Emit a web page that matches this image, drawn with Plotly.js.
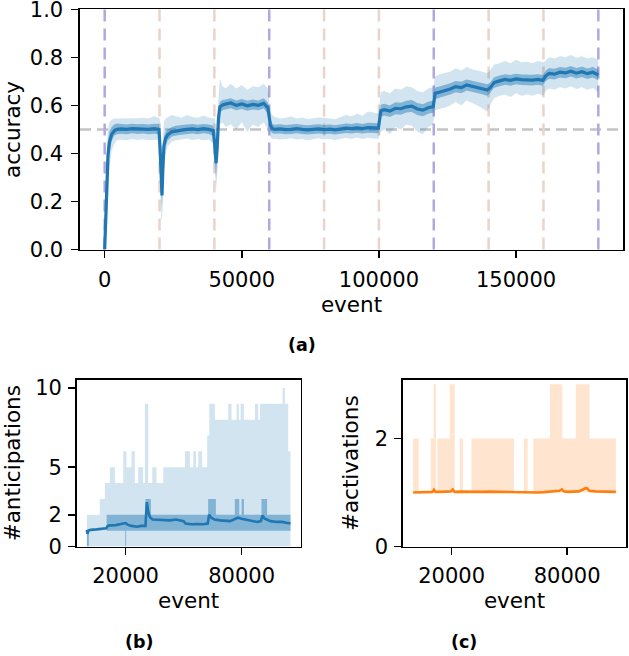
<!DOCTYPE html>
<html>
<head>
<meta charset="utf-8">
<script src="https://cdn.plot.ly/plotly-3.0.1.min.js"></script>
<style>
  html, body { margin: 0; padding: 0; background: #fff; }
  #wrap { position: relative; width: 629px; height: 656px; }
  #chart { width: 629px; height: 656px; }
  .frame { position: absolute; box-sizing: border-box; border: 1.6px solid #000; pointer-events: none; }
</style>
</head>
<body>
<div id="wrap"><div id="chart"></div></div>
<script>
// ---------- (a) accuracy over the event stream ----------
const eventA = [
  0, 400, 800, 1200, 1700, 2500, 3500, 4500,
  6000, 8000, 10000, 12000, 14000, 16000, 18000, 19800,
  20200, 20600, 20900, 21200, 21600, 22200, 23000, 24500,
  26000, 28000, 30000, 32000, 34000, 36000, 38000, 39600,
  40100, 40600, 41000, 41500, 42000, 43000, 44000,
  46000, 48000, 50000, 52000, 54000, 56000, 58000, 59500,
  60400, 61000, 62000, 64000, 66000, 68000, 70000, 72000, 74000,
  76000, 78000, 80000, 82000, 84000, 86000, 88000, 90000, 92000, 94000, 96000, 98000, 99800,
  100700, 102000, 104000, 106000, 108000, 110000, 112000, 114000, 116000, 118000, 119800,
  120500, 122000, 124000, 126000, 128000, 130000, 132000, 134000, 136000, 138000, 139500,
  140500, 141500, 142000, 144000, 146000, 148000, 150000, 152000, 154000, 156000, 158000, 159800,
  160800, 162000, 164000, 166000, 168000, 170000, 172000, 174000, 176000, 178000, 180000
];
const accMean = [
  0.00, 0.15, 0.29, 0.39, 0.445, 0.478, 0.494, 0.50,
  0.502, 0.500, 0.503, 0.501, 0.502, 0.500, 0.503, 0.500,
  0.42, 0.27, 0.225, 0.33, 0.43, 0.462, 0.478, 0.49,
  0.494, 0.497, 0.500, 0.502, 0.499, 0.503, 0.500, 0.495,
  0.44, 0.36, 0.42, 0.545, 0.594, 0.602, 0.605,
  0.610, 0.600, 0.606, 0.598, 0.604, 0.600, 0.608, 0.590,
  0.52, 0.505, 0.500, 0.502, 0.499, 0.500, 0.503, 0.500, 0.498,
  0.500, 0.502, 0.499, 0.501, 0.498, 0.502, 0.505, 0.503, 0.506, 0.503, 0.507, 0.506, 0.505,
  0.578, 0.582, 0.576, 0.588, 0.586, 0.594, 0.597, 0.585, 0.580, 0.590, 0.595,
  0.650, 0.655, 0.660, 0.668, 0.678, 0.674, 0.685, 0.680, 0.676, 0.668, 0.664,
  0.672, 0.688, 0.695, 0.702, 0.708, 0.704, 0.710, 0.707, 0.706, 0.705, 0.708, 0.704,
  0.722, 0.733, 0.730, 0.738, 0.735, 0.742, 0.734, 0.740, 0.732, 0.738, 0.727
];
const accInnerLo = [
  0.00, 0.08, 0.20, 0.32, 0.40, 0.45, 0.475, 0.48,
  0.482, 0.480, 0.484, 0.481, 0.483, 0.480, 0.482, 0.480,
  0.36, 0.20, 0.17, 0.27, 0.39, 0.43, 0.455, 0.47,
  0.475, 0.478, 0.482, 0.483, 0.480, 0.484, 0.481, 0.470,
  0.40, 0.30, 0.37, 0.51, 0.57, 0.58, 0.583,
  0.588, 0.580, 0.585, 0.578, 0.583, 0.580, 0.587, 0.565,
  0.495, 0.485, 0.482, 0.483, 0.480, 0.481, 0.484, 0.481, 0.479,
  0.481, 0.483, 0.480, 0.482, 0.479, 0.483, 0.485, 0.483, 0.486, 0.483, 0.486, 0.485, 0.484,
  0.553, 0.558, 0.552, 0.563, 0.561, 0.570, 0.572, 0.560, 0.555, 0.565, 0.570,
  0.626, 0.632, 0.637, 0.645, 0.655, 0.650, 0.662, 0.657, 0.652, 0.645, 0.640,
  0.650, 0.666, 0.673, 0.680, 0.686, 0.682, 0.688, 0.685, 0.684, 0.683, 0.686, 0.682,
  0.700, 0.711, 0.708, 0.716, 0.713, 0.720, 0.712, 0.718, 0.710, 0.716, 0.705
];
const accInnerHi = [
  0.00, 0.22, 0.36, 0.45, 0.49, 0.51, 0.52, 0.525,
  0.522, 0.520, 0.524, 0.521, 0.523, 0.520, 0.524, 0.522,
  0.47, 0.33, 0.28, 0.39, 0.47, 0.49, 0.50, 0.51,
  0.515, 0.518, 0.520, 0.522, 0.519, 0.523, 0.520, 0.515,
  0.48, 0.42, 0.47, 0.58, 0.615, 0.622, 0.625,
  0.630, 0.620, 0.627, 0.619, 0.625, 0.620, 0.630, 0.612,
  0.545, 0.525, 0.519, 0.521, 0.518, 0.520, 0.522, 0.519, 0.517,
  0.519, 0.521, 0.518, 0.520, 0.517, 0.521, 0.525, 0.523, 0.527, 0.523, 0.528, 0.527, 0.526,
  0.603, 0.607, 0.600, 0.613, 0.611, 0.619, 0.622, 0.610, 0.605, 0.615, 0.620,
  0.674, 0.679, 0.684, 0.692, 0.702, 0.698, 0.708, 0.703, 0.700, 0.692, 0.688,
  0.694, 0.710, 0.717, 0.724, 0.730, 0.726, 0.732, 0.729, 0.728, 0.727, 0.730, 0.726,
  0.744, 0.755, 0.752, 0.760, 0.757, 0.764, 0.756, 0.762, 0.754, 0.760, 0.749
];
const accOuterLo = [
  0.00, 0.02, 0.10, 0.22, 0.33, 0.41, 0.44, 0.455,
  0.458, 0.455, 0.460, 0.456, 0.459, 0.455, 0.457, 0.455,
  0.25, 0.13, 0.12, 0.20, 0.33, 0.40, 0.43, 0.45,
  0.455, 0.458, 0.462, 0.456, 0.460, 0.455, 0.458, 0.44,
  0.32, 0.25, 0.30, 0.45, 0.52, 0.53, 0.51,
  0.52, 0.50, 0.53, 0.49, 0.52, 0.51, 0.53, 0.50,
  0.47, 0.46, 0.462, 0.458, 0.46, 0.463, 0.458, 0.46, 0.455,
  0.46, 0.463, 0.458, 0.461, 0.456, 0.462, 0.465, 0.46, 0.466, 0.46, 0.465, 0.462, 0.46,
  0.49, 0.50, 0.48, 0.51, 0.50, 0.52, 0.515, 0.49, 0.48, 0.51, 0.52,
  0.58, 0.585, 0.59, 0.60, 0.615, 0.60, 0.62, 0.61, 0.60, 0.585, 0.575,
  0.60, 0.62, 0.63, 0.64, 0.645, 0.635, 0.65, 0.64, 0.645, 0.64, 0.648, 0.64,
  0.66, 0.67, 0.665, 0.675, 0.67, 0.68, 0.668, 0.675, 0.665, 0.672, 0.655
];
const accOuterHi = [
  0.00, 0.30, 0.44, 0.50, 0.53, 0.54, 0.545, 0.545,
  0.545, 0.546, 0.544, 0.546, 0.548, 0.545, 0.555, 0.547,
  0.54, 0.45, 0.38, 0.47, 0.53, 0.545, 0.55, 0.56,
  0.555, 0.548, 0.56, 0.552, 0.548, 0.558, 0.55, 0.545,
  0.55, 0.50, 0.55, 0.66, 0.71, 0.68, 0.67,
  0.69, 0.67, 0.685, 0.665, 0.68, 0.675, 0.69, 0.67,
  0.58, 0.56, 0.552, 0.545, 0.548, 0.555, 0.545, 0.55, 0.543,
  0.545, 0.55, 0.548, 0.545, 0.542, 0.552, 0.56, 0.555, 0.565, 0.557, 0.575, 0.57, 0.565,
  0.655, 0.66, 0.65, 0.67, 0.665, 0.68, 0.675, 0.66, 0.655, 0.67, 0.675,
  0.72, 0.73, 0.735, 0.74, 0.755, 0.745, 0.76, 0.75, 0.745, 0.74, 0.735,
  0.745, 0.76, 0.77, 0.775, 0.785, 0.775, 0.79, 0.78, 0.782, 0.775, 0.785, 0.78,
  0.785, 0.80, 0.795, 0.805, 0.80, 0.81, 0.798, 0.805, 0.795, 0.80, 0.79
];
// boundaries drawn as dashed verticals, and the chance level
const majorSwitches = [0, 60000, 120000, 180000];
const minorSwitches = [20000, 40000, 80000, 100000, 140000, 160000];
const chanceLevel = 0.5;
const accXTicks = [0, 50000, 100000, 150000];
const accYTicks = [0, 0.2, 0.4, 0.6, 0.8, 1.0];

// ---------- (b) number of anticipations ----------
const antMaxEvent = [0, 6700, 9300, 11900, 14500, 18800, 20500, 23100, 24800, 26500,
  29100, 30000, 31700, 33800, 36000, 39500, 50700, 53300, 55000, 56400,
  57600, 59600, 62200, 63300, 66200, 73100, 74800, 77400, 78600, 79500,
  81200, 86900, 88600, 89500, 101200, 102400, 104100, 105300];
const antMax = [2, 3, 4, 5, 4, 6, 5, 6, 4, 5,
  4, 9, 4, 5, 4, 5, 6, 5, 6, 5,
  6, 5, 7, 9, 8, 9, 8, 9, 8, 9,
  8, 9, 8, 9, 10, 9, 6, 6];
const antQEvent = [0, 1000, 10200, 19800, 20300, 30300, 33100, 62700, 66700, 76500,
  78800, 80000, 81200, 90300, 93200, 105300];
const antQ1 = [0, 1, 1, 0, 1, 1, 1, 1, 1, 1, 1, 1, 1, 1, 1, 1];
const antQ3 = [1, 1, 2, 2, 2, 3, 2, 3, 2, 3, 2, 3, 2, 3, 2, 2];
const antEvent = [0, 300, 800, 2000, 5000, 8000, 10000, 10800, 12000, 15000,
  18000, 20000, 21000, 23000, 26000, 28000, 30300, 31000, 31700, 32600,
  34000, 37000, 40000, 43000, 46000, 48000, 50000, 51000, 54000, 57000,
  60000, 62500, 63200, 64500, 66000, 69000, 72000, 74000, 76000, 78000,
  80000, 82000, 85000, 88000, 90000, 90800, 92000, 95000, 98000, 101000,
  103000, 105300];
const antMean = [1.05, 0.8, 1.0, 1.05, 1.08, 1.12, 1.15, 1.3, 1.33, 1.35,
  1.4, 1.48, 1.38, 1.3, 1.25, 1.3, 1.3, 2.8, 2.2, 1.85,
  1.7, 1.68, 1.7, 1.65, 1.7, 1.65, 1.6, 1.45, 1.4, 1.42,
  1.4, 1.45, 2.0, 1.8, 1.7, 1.65, 1.6, 1.6, 1.7, 1.82,
  1.75, 1.7, 1.6, 1.55, 1.6, 1.95, 1.75, 1.6, 1.55, 1.55,
  1.5, 1.45];
const antYTicks = [0, 2, 5, 10];

// ---------- (c) number of activations ----------
const actBandEvent = [0, 2900, 9140, 10700, 11900, 12600, 19000, 21600, 24200, 25900,
  30300, 52400, 57600, 59500, 62400, 71100, 77500, 84500, 91600, 105300];
const actMin = [1, 1, 1, 1, 1, 1, 1, 1, 1, 1, 1, 1, 1, 1, 1, 1, 1, 1, 1, 1];
const actMax = [2, 1, 2, 3, 1, 2, 3, 1, 2, 1, 2, 1, 2, 1, 2, 3, 2, 3, 2, 2];
const actEvent = [0, 3000, 6000, 9000, 10000, 10800, 11600, 14000, 17000, 19500,
  20600, 21500, 25000, 30000, 35000, 40000, 45000, 50000, 55000, 60000,
  65000, 68000, 71000, 74000, 76000, 77300, 78200, 80000, 84000, 86000,
  88000, 89600, 90500, 91500, 95000, 100000, 105300];
const actMean = [1.0, 1.0, 1.005, 1.01, 1.01, 1.05, 1.01, 1.01, 1.015, 1.02,
  1.055, 1.01, 1.015, 1.01, 1.01, 1.015, 1.01, 1.01, 1.005, 1.0,
  1.0, 1.005, 1.01, 1.02, 1.03, 1.055, 1.02, 1.01, 1.01, 1.02,
  1.05, 1.08, 1.075, 1.03, 1.02, 1.02, 1.01];
const smallXTicks = [20000, 80000];
const actYTicks = [0, 2];

// ---------- styling ----------
const FONT = 'DejaVu Sans';
const BLUE = '#1f77b4';
const ORANGE = '#ff7f0e';
const BLUE_LIGHT = 'rgba(31,119,180,0.2)';
const BLUE_DARK = 'rgba(31,119,180,0.45)';
const ORANGE_LIGHT = 'rgba(255,127,14,0.2)';
const PURPLE = '#b2a8de';
const TAN = '#e8d4c8';
const LW = 1.6;

const W = 629, H = 656;
// panel boxes in pixels: [left, right] and [top, bottom]
const boxA = { l: 80, r: 623, t: 9.3, b: 249.5 };
const boxB = { l: 76.7, r: 300.7, t: 380, b: 546.5 };
const boxC = { l: 403, r: 626, t: 380, b: 546.5 };
const domX = bx => [bx.l / W, bx.r / W];
const domY = bx => [1 - bx.b / H, 1 - bx.t / H];

function axis(extra) {
  return Object.assign({
    showline: true, linecolor: '#000', linewidth: LW, mirror: true,
    ticks: 'outside', ticklen: 7, tickwidth: LW, tickcolor: '#000',
    showgrid: false, zeroline: false, automargin: false, ticklabeloverflow: 'allow',
    tickfont: { family: FONT, size: 21, color: '#000' }
  }, extra);
}
const titleFont = { family: FONT, size: 21.5, color: '#000' };

const traces = [];
function band(x, lo, hi, color, xa, ya, shape) {
  traces.push({ x: x, y: lo, xaxis: xa, yaxis: ya, mode: 'lines', line: { width: 0, shape: shape || 'linear' }, hoverinfo: 'skip', showlegend: false });
  traces.push({ x: x, y: hi, xaxis: xa, yaxis: ya, mode: 'lines', line: { width: 0, shape: shape || 'linear' }, fill: 'tonexty', fillcolor: color, hoverinfo: 'skip', showlegend: false });
}

// (a)
band(eventA, accOuterLo, accOuterHi, BLUE_LIGHT, 'x', 'y');
band(eventA, accInnerLo, accInnerHi, BLUE_DARK, 'x', 'y');
traces.push({ x: eventA, y: accMean, xaxis: 'x', yaxis: 'y', mode: 'lines', line: { color: BLUE, width: 3.2 }, showlegend: false });

// (b)
traces.push({ x: antMaxEvent, y: antMax, xaxis: 'x2', yaxis: 'y2', mode: 'lines', line: { width: 0, shape: 'hv' }, fill: 'tozeroy', fillcolor: BLUE_LIGHT, hoverinfo: 'skip', showlegend: false });
band(antQEvent, antQ1, antQ3, BLUE_DARK, 'x2', 'y2', 'hv');
traces.push({ x: antEvent, y: antMean, xaxis: 'x2', yaxis: 'y2', mode: 'lines', line: { color: BLUE, width: 2.6 }, showlegend: false });

// (c)
band(actBandEvent, actMin, actMax, ORANGE_LIGHT, 'x3', 'y3', 'hv');
traces.push({ x: actEvent, y: actMean, xaxis: 'x3', yaxis: 'y3', mode: 'lines', line: { color: ORANGE, width: 2.6 }, showlegend: false });

const shapes = [];
shapes.push({ type: 'line', xref: 'x domain', x0: 0, x1: 1, yref: 'y', y0: chanceLevel, y1: chanceLevel, layer: 'below', line: { color: '#c4c4c4', width: 2.5, dash: '11px,6px' } });
majorSwitches.forEach(v => shapes.push({ type: 'line', xref: 'x', x0: v, x1: v, yref: 'y domain', y0: 0, y1: 1, layer: 'below', line: { color: PURPLE, width: 2.5, dash: '12px,7px' } }));
minorSwitches.forEach(v => shapes.push({ type: 'line', xref: 'x', x0: v, x1: v, yref: 'y domain', y0: 0, y1: 1, layer: 'below', line: { color: TAN, width: 2.5, dash: '12px,7px' } }));

const smallRange = [-5265, 110565];

const layout = {
  width: W, height: H,
  margin: { l: 0, r: 0, t: 0, b: 0 },
  paper_bgcolor: '#fff', plot_bgcolor: '#fff',
  showlegend: false,
  xaxis: axis({ domain: domX(boxA), anchor: 'y', range: [-9000, 189000], tickvals: accXTicks, tickformat: 'd', ticklabelstandoff: 4,
    title: { text: 'event', font: titleFont, standoff: 4 } }),
  yaxis: axis({ domain: domY(boxA), anchor: 'x', range: [0, 1], tickvals: accYTicks, tickformat: '.1f', ticklabelstandoff: 4,
    title: { text: 'accuracy', font: titleFont, standoff: 11 } }),
  xaxis2: axis({ domain: domX(boxB), anchor: 'y2', range: smallRange, tickvals: smallXTicks, tickformat: 'd', ticklabelstandoff: 3,
    title: { text: 'event', font: titleFont, standoff: 4 } }),
  yaxis2: axis({ domain: domY(boxB), anchor: 'x2', range: [0, 10.5], tickvals: antYTicks, ticklabelstandoff: 2,
    title: { text: '#anticipations', font: titleFont, standoff: 8 } }),
  xaxis3: axis({ domain: domX(boxC), anchor: 'y3', range: smallRange, tickvals: smallXTicks, tickformat: 'd', ticklabelstandoff: 3,
    title: { text: 'event', font: titleFont, standoff: 4 } }),
  yaxis3: axis({ domain: domY(boxC), anchor: 'x3', range: [0, 3.08], tickvals: actYTicks, ticklabelstandoff: 2,
    title: { text: '#activations', font: titleFont, standoff: 10 } }),
  shapes: shapes,
  annotations: [
    { text: '<b>(a)</b>', xref: 'paper', yref: 'paper', x: 302 / W, y: 1 - 345 / H, showarrow: false, xanchor: 'center', yanchor: 'middle', font: { family: FONT, size: 17.5, color: '#000' } },
    { text: '<b>(b)</b>', xref: 'paper', yref: 'paper', x: 139 / W, y: 1 - 642 / H, showarrow: false, xanchor: 'center', yanchor: 'middle', font: { family: FONT, size: 17.5, color: '#000' } },
    { text: '<b>(c)</b>', xref: 'paper', yref: 'paper', x: 464 / W, y: 1 - 642 / H, showarrow: false, xanchor: 'center', yanchor: 'middle', font: { family: FONT, size: 17.5, color: '#000' } }
  ]
};

Plotly.newPlot('chart', traces, layout, { staticPlot: true, displayModeBar: false });

// panel frames (all four spines) laid over each plotting area
const wrap = document.getElementById('wrap');
[boxA, boxB, boxC].forEach(bx => {
  const f = document.createElement('div');
  f.className = 'frame';
  f.style.left = (bx.l - LW) + 'px';
  f.style.top = (bx.t - LW) + 'px';
  f.style.width = (bx.r - bx.l + 2 * LW) + 'px';
  f.style.height = (bx.b - bx.t + 2 * LW) + 'px';
  wrap.appendChild(f);
});
</script>
</body>
</html>
